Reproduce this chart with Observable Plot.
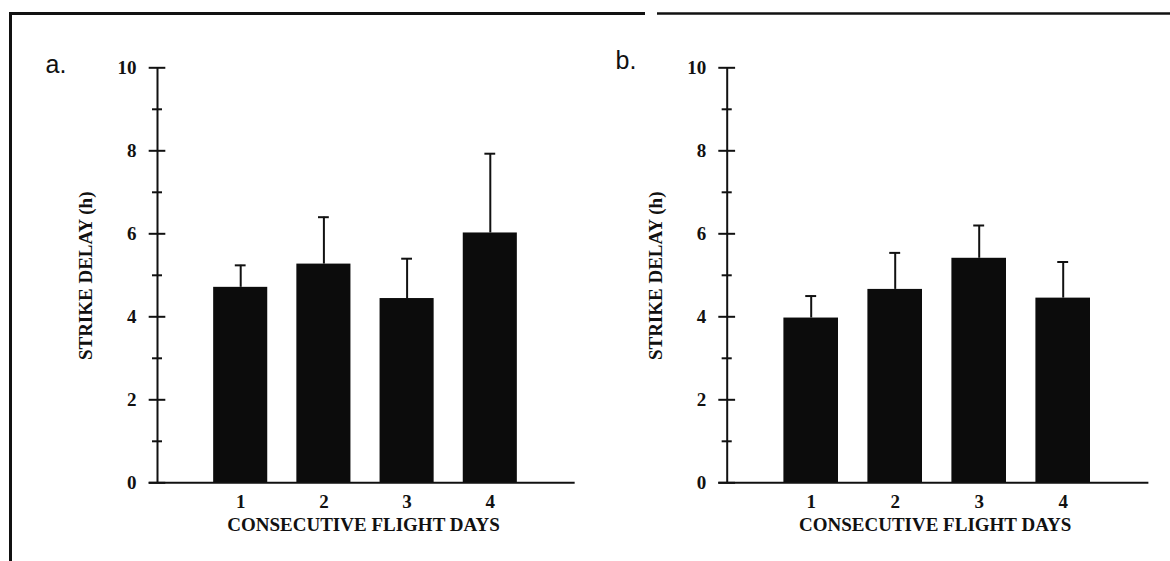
<!DOCTYPE html>
<html>
<head>
<meta charset="utf-8">
<script src="https://cdn.jsdelivr.net/npm/d3@7"></script>
<script src="https://cdn.jsdelivr.net/npm/@observablehq/plot@0.6"></script>
<style>
  html, body { margin: 0; padding: 0; background: #fff; }
  #wrap { position: relative; width: 1170px; height: 561px; overflow: hidden; background: #fff; }
  #wrap > .panel { position: absolute; top: 0; }
  #frame { position: absolute; left: 0; top: 0; pointer-events: none; }
</style>
</head>
<body>
<div id="wrap">
  <div class="panel" id="pa" style="left:0px"></div>
  <div class="panel" id="pb" style="left:585px"></div>
</div>
<script>
// ---- data ----
const days = [1, 2, 3, 4];
const dayLabels = ["1", "2", "3", "4"];
const meanA = [4.71, 5.27, 4.44, 6.02];
const errA  = [0.53, 1.13, 0.96, 1.91];
const meanB = [3.97, 4.66, 5.41, 4.45];
const errB  = [0.53, 0.88, 0.79, 0.87];
const majorTicks = [0, 2, 4, 6, 8, 10];
const minorTicks = [1, 3, 5, 7, 9];
const xTitle = "CONSECUTIVE FLIGHT DAYS";
const yTitle = "STRIKE DELAY (h)";
const panelLabels = ["a.", "b."];

const serif = "'Liberation Serif', 'Times New Roman', serif";
const sans = "'Liberation Sans', Arial, sans-serif";

function panel(means, errs, label, opts) {
  const rows = days.map((d, i) => ({day: d, label: dayLabels[i], mean: means[i], top: means[i] + errs[i]}));
  const halfBar = 0.325, halfCap = 0.065, majorHalf = 0.1, minorHalf = 0.06;
  return Plot.plot({
    width: 585,
    height: 561,
    marginTop: 67.3,
    marginBottom: 78.7,
    marginLeft: opts.ml,
    marginRight: opts.mr,
    x: {domain: [0, 5], axis: null},
    y: {domain: [0, 10], axis: null},
    style: {background: "transparent", overflow: "visible"},
    marks: [
      Plot.rectY(rows, {x1: d => d.day - halfBar, x2: d => d.day + halfBar, y1: 0, y2: "mean", fill: "#0c0c0c"}),
      Plot.ruleX(rows, {x: "day", y1: "mean", y2: "top", stroke: "#111", strokeWidth: 2}),
      Plot.ruleY(rows, {y: "top", x1: d => d.day - halfCap, x2: d => d.day + halfCap, stroke: "#111", strokeWidth: 2}),
      // y axis line and ticks
      Plot.ruleX([0], {y1: 0, y2: 10, stroke: "#111", strokeWidth: 2}),
      Plot.ruleY(majorTicks, {y: d => d, x1: -majorHalf, x2: majorHalf, stroke: "#111", strokeWidth: 2}),
      Plot.ruleY(minorTicks, {y: d => d, x1: -minorHalf, x2: minorHalf, stroke: "#111", strokeWidth: 2}),
      // x axis baseline
      Plot.ruleY([0], {x1: -0.1, x2: 5.02, stroke: "#111", strokeWidth: 2}),
      // y tick labels
      Plot.text(majorTicks, {x: 0, y: d => d, text: d => String(d), dx: -21, textAnchor: "end", lineAnchor: "middle",
        fontFamily: serif, fontWeight: "bold", fontSize: 19, fill: "#111"}),
      // x tick labels
      Plot.text(rows, {x: "day", y: 0, text: "label", dy: 19, lineAnchor: "middle",
        fontFamily: serif, fontWeight: "bold", fontSize: 19, fill: "#111"}),
      // x title
      Plot.text([xTitle], {frameAnchor: "bottom", text: d => d, dx: -2, dy: 42.5, textAnchor: "middle", lineAnchor: "middle",
        fontFamily: serif, fontWeight: "bold", fontSize: 19, fill: "#111"}),
      // y title
      Plot.text([yTitle], {frameAnchor: "left", text: d => d, rotate: -90, dx: opts.ytDx, dy: 0.5,
        textAnchor: "middle", lineAnchor: "middle",
        fontFamily: serif, fontWeight: "bold", fontSize: 19, fill: "#111"}),
      // panel label
      Plot.text([label], {frameAnchor: "top-left", text: d => d, dx: opts.labDx, dy: opts.labDy,
        textAnchor: "start", lineAnchor: "bottom", fontFamily: sans, fontSize: 25, fill: "#111"})
    ]
  });
}

document.getElementById("pa").appendChild(panel(meanA, errA, panelLabels[0], {ml: 157, mr: 12, ytDx: -72, labDx: -112, labDy: 5}));
document.getElementById("pb").appendChild(panel(meanB, errB, panelLabels[1], {ml: 141.7, mr: 23.3, ytDx: -71, labDx: -111.7, labDy: 1}));

// page frame lines of the scanned figure
const svg = d3.select("#wrap").append("svg").attr("id", "frame").attr("width", 1170).attr("height", 561);
svg.append("line").attr("x1", 10.5).attr("x2", 10.5).attr("y1", 12).attr("y2", 561).attr("stroke", "#111").attr("stroke-width", 3);
svg.append("line").attr("x1", 9).attr("x2", 645).attr("y1", 13.5).attr("y2", 13.5).attr("stroke", "#111").attr("stroke-width", 3);
svg.append("line").attr("x1", 657).attr("x2", 1170).attr("y1", 13.5).attr("y2", 13.5).attr("stroke", "#111").attr("stroke-width", 2.6);
</script>
</body>
</html>
